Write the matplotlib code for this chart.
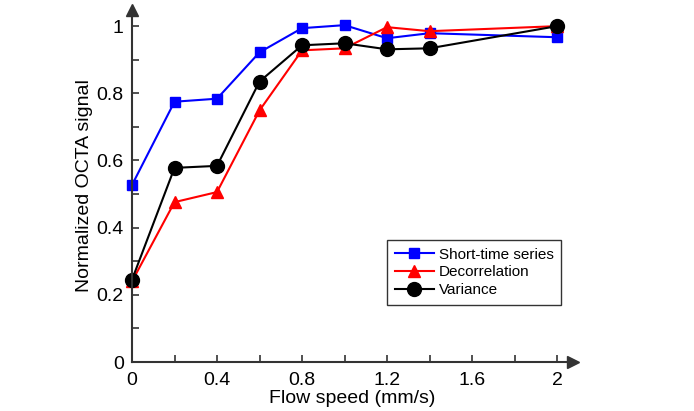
import matplotlib
matplotlib.use('Agg')
import matplotlib.pyplot as plt
from matplotlib.ticker import MultipleLocator

plt.rcParams['font.family'] = ['Liberation Sans', 'DejaVu Sans']

speed = [0, 0.2, 0.4, 0.6, 0.8, 1.0, 1.2, 1.4, 2.0]
short_time = [0.527, 0.775, 0.784, 0.922, 0.994, 1.003, 0.964, 0.979, 0.967]
decorrelation = [0.24, 0.476, 0.506, 0.749, 0.928, 0.934, 0.997, 0.985, 1.0]
variance = [0.245, 0.578, 0.584, 0.835, 0.943, 0.949, 0.931, 0.934, 1.0]

fig = plt.figure(figsize=(6.94, 4.11), dpi=100)
ax = fig.add_axes([0.1902, 0.1192, 0.6354, 0.8564])

ax.plot(speed, short_time, '-s', color='#0000ff', lw=1.5, ms=7, label='Short-time series', clip_on=False)
ax.plot(speed, decorrelation, '-^', color='#ff0000', lw=1.5, ms=9, label='Decorrelation', clip_on=False)
ax.plot(speed, variance, '-o', color='black', lw=1.5, ms=10, label='Variance', clip_on=False)

ax.set_xlim(0, 2.075)
ax.set_ylim(0, 1.048)
ax.spines['top'].set_visible(False)
ax.spines['right'].set_visible(False)
for s in ['left', 'bottom']:
    ax.spines[s].set_linewidth(1.5)
    ax.spines[s].set_color('#333333')

# axis arrows
ax.plot(1, 0, '>', color='#333333', ms=9, transform=ax.transAxes, clip_on=False)
ax.plot(0, 1, '^', color='#333333', ms=9, transform=ax.transAxes, clip_on=False)

ax.set_xticks([0, 0.4, 0.8, 1.2, 1.6, 2])
ax.set_xticklabels(['0', '0.4', '0.8', '1.2', '1.6', '2'])
ax.xaxis.set_minor_locator(MultipleLocator(0.2))
ax.set_yticks([0, 0.2, 0.4, 0.6, 0.8, 1])
ax.set_yticklabels(['0', '0.2', '0.4', '0.6', '0.8', '1'])
ax.yaxis.set_minor_locator(MultipleLocator(0.1))
ax.tick_params(which='both', direction='in', labelsize=14, width=1.2, color='#333333', length=5)
ax.tick_params(axis='x', pad=7)
ax.tick_params(axis='y', pad=6)

ax.set_xlabel('Flow speed (mm/s)', fontsize=14, labelpad=1)
ax.set_ylabel('Normalized OCTA signal', fontsize=14)
ax.yaxis.set_label_coords(-0.088, 0.5)

leg = ax.legend(loc='upper left', bbox_to_anchor=(0.578, 0.347), fontsize=11,
                frameon=True, fancybox=False, borderpad=0.5, labelspacing=0.25,
                handlelength=2.6, handletextpad=0.3, borderaxespad=0)
leg.get_frame().set_edgecolor('black')
leg.get_frame().set_linewidth(1.0)

fig.savefig('out.png', dpi=100)
